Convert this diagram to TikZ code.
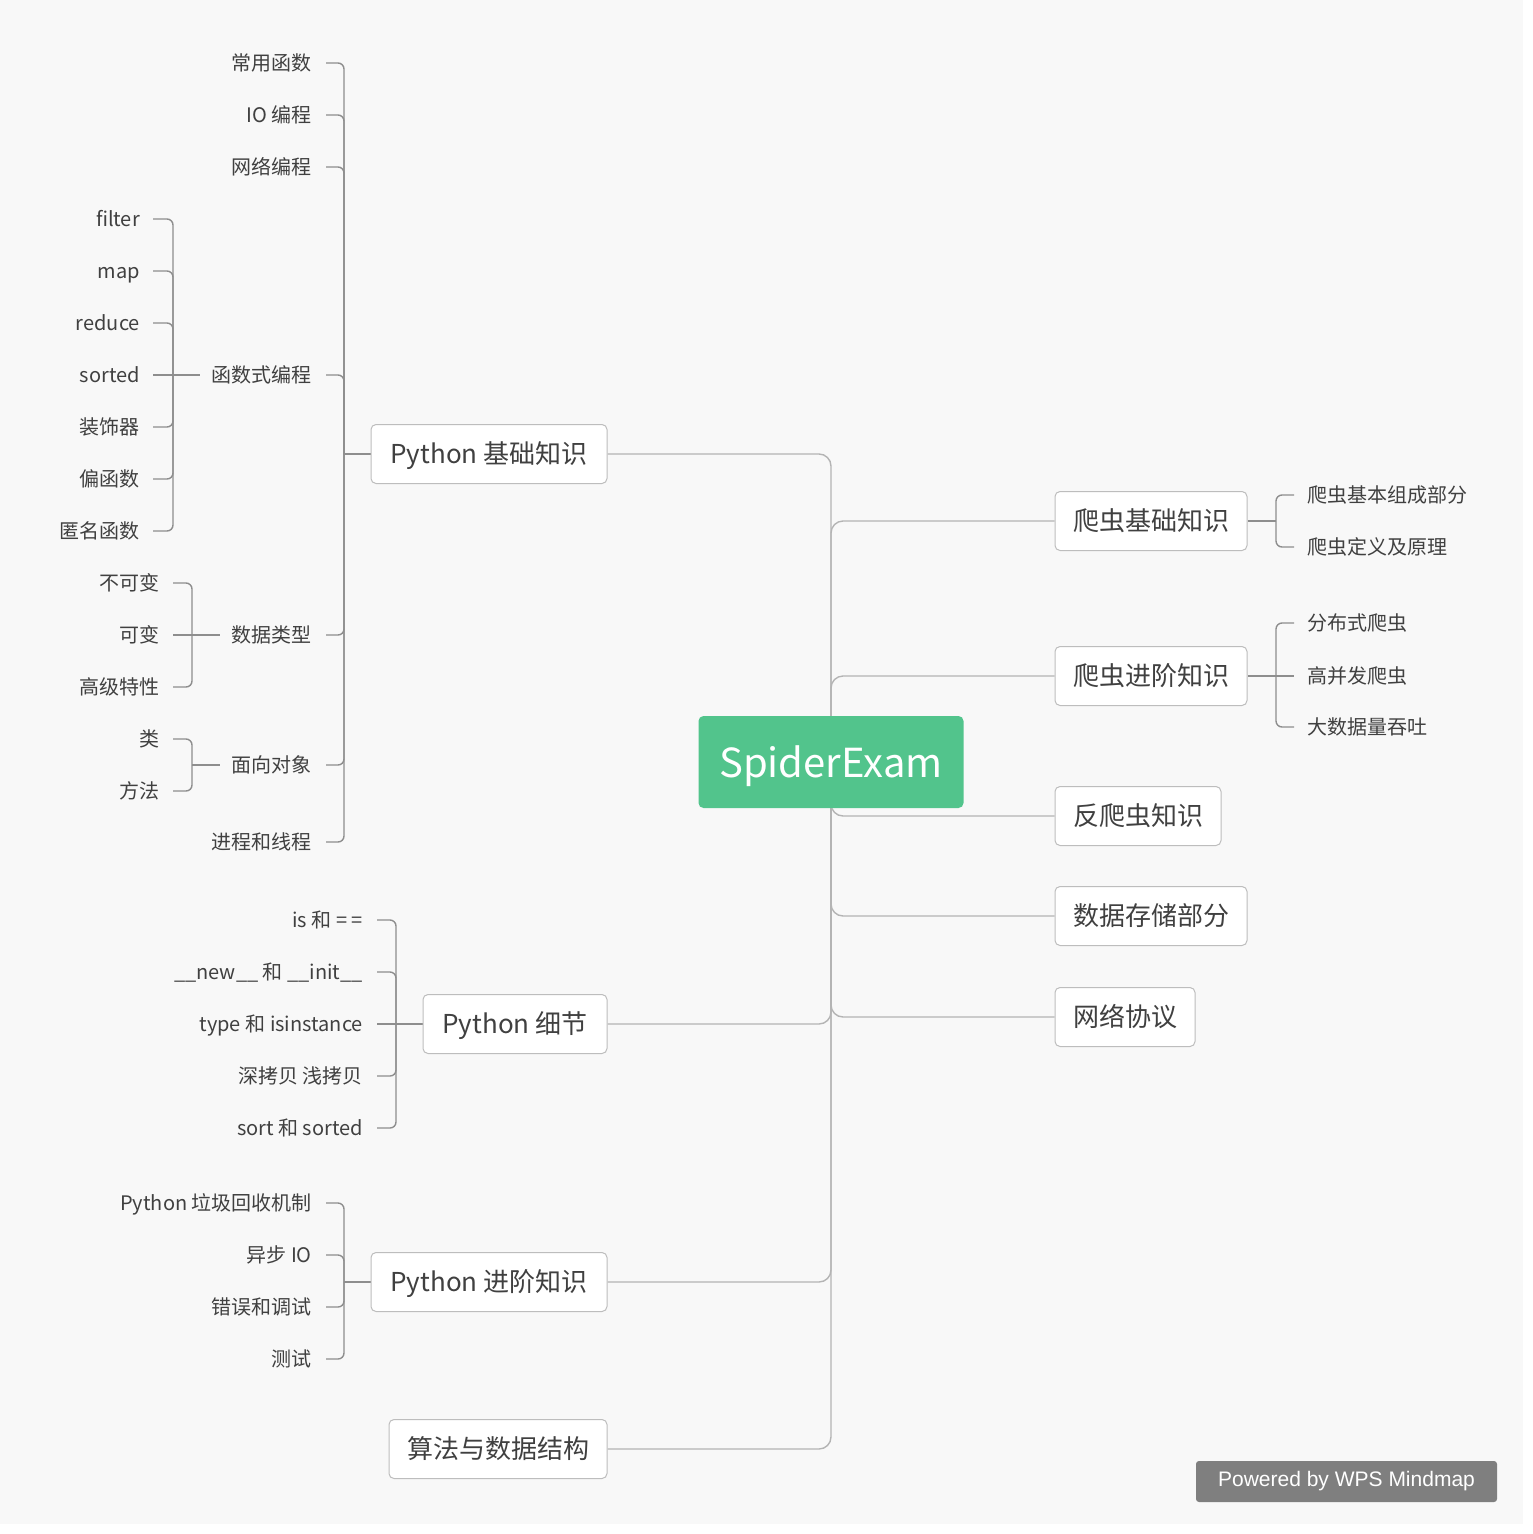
\documentclass[tikz,border=0pt]{standalone}
\usepackage{fontspec}
\setmainfont{Noto Sans CJK SC}
\newfontfamily\wpsfont{Liberation Sans}
\definecolor{txt}{HTML}{404040}
\definecolor{bgc}{HTML}{F8F8F8}
\definecolor{boxc}{HTML}{BDBDBD}
\definecolor{trunkc}{HTML}{B4B4B4}
\definecolor{leafc}{HTML}{8E8E8E}
\definecolor{rootc}{HTML}{52C48C}
\definecolor{wpsc}{HTML}{7F7F7F}
\pgfdeclarelayer{bgl}
\pgfdeclarelayer{edgel}
\pgfsetlayers{bgl,edgel,main}
\begin{document}
\begin{tikzpicture}[x=1pt,y=-1pt,
  leafl/.style={font=\fontsize{20}{24}\selectfont, text=txt, inner sep=0pt, text height=17.2pt, text depth=2.8pt, anchor=east},
  leafr/.style={leafl, anchor=west},
  topic/.style={draw=boxc, fill=white, rounded corners=5pt, line width=1pt, minimum height=59pt, inner sep=0pt, font=\fontsize{26}{30}\selectfont, text=txt, text height=22.4pt, text depth=3.6pt},
  rootbox/.style={fill=rootc, rounded corners=5pt, minimum width=265pt, minimum height=92pt, inner sep=0pt, font=\fontsize{40}{46}\selectfont, text=white, text height=35pt, text depth=5pt},
  trunk/.style={draw=trunkc, line width=1.4pt, rounded corners=12pt},
  leafline/.style={draw=leafc, line width=1.4pt, rounded corners=6pt},
  wpsbox/.style={fill=wpsc, rounded corners=3pt, minimum width=301pt, minimum height=41pt, inner sep=0pt, font=\wpsfont\fontsize{21}{24}\selectfont, text=white}
]
\useasboundingbox (0,0) rectangle (1533,1534);
\begin{pgfonlayer}{bgl}
\fill[white] (0,0) rectangle (1533,1534);
\fill[bgc] (0,0) rectangle (1523,1524);
\end{pgfonlayer}

% root and topics
\node[rootbox] (root) at (831,762) {SpiderExam};
\node[topic, minimum width=236pt] (pyb) at (489,454) {Python 基础知识};
\node[topic, minimum width=184pt] (pyd) at (515,1024) {Python 细节};
\node[topic, minimum width=236pt] (pya) at (489,1282) {Python 进阶知识};
\node[topic, minimum width=218pt] (alg) at (498,1449) {算法与数据结构};
\node[topic, minimum width=192pt] (sb) at (1151,521) {爬虫基础知识};
\node[topic, minimum width=192pt] (sa) at (1151,676) {爬虫进阶知识};
\node[topic, minimum width=166pt] (fa) at (1138,816) {反爬虫知识};
\node[topic, minimum width=192pt] (ds) at (1151,916) {数据存储部分};
\node[topic, minimum width=140pt] (net) at (1125,1017) {网络协议};

% Python 基础知识 children
\node[leafl] (b1) at (312,63) {常用函数};
\node[leafl] (b2) at (312,115) {IO 编程};
\node[leafl] (b3) at (312,167) {网络编程};
\node[leafl] (b4) at (312,375) {函数式编程};
\node[leafl] (b5) at (312,635) {数据类型};
\node[leafl] (b6) at (312,765) {面向对象};
\node[leafl] (b7) at (312,842) {进程和线程};

% 函数式编程 children
\node[leafl] (f1) at (140,219) {filter};
\node[leafl] (f2) at (140,271) {map};
\node[leafl] (f3) at (140,323) {reduce};
\node[leafl] (f4) at (140,375) {sorted};
\node[leafl] (f5) at (140,427) {装饰器};
\node[leafl] (f6) at (140,479) {偏函数};
\node[leafl] (f7) at (140,531) {匿名函数};

% 数据类型 children
\node[leafl] (d1) at (160,583) {不可变};
\node[leafl] (d2) at (160,635) {可变};
\node[leafl] (d3) at (160,687) {高级特性};

% 面向对象 children
\node[leafl] (o1) at (160,739) {类};
\node[leafl] (o2) at (160,791) {方法};

% Python 细节 children
\node[leafl] (p1) at (363,920) {is 和 = =};
\node[leafl] (p2) at (363,972) {\_\_new\_\_ 和 \_\_init\_\_};
\node[leafl] (p3) at (363,1024) {type 和 isinstance};
\node[leafl] (p4) at (363,1076) {深拷贝 浅拷贝};
\node[leafl] (p5) at (363,1128) {sort 和 sorted};

% Python 进阶知识 children
\node[leafl] (a1) at (312,1203) {Python 垃圾回收机制};
\node[leafl] (a2) at (312,1255) {异步 IO};
\node[leafl] (a3) at (312,1307) {错误和调试};
\node[leafl] (a4) at (312,1359) {测试};

% right side children
\node[leafr] (r1) at (1307,495) {爬虫基本组成部分};
\node[leafr] (r2) at (1307,547) {爬虫定义及原理};
\node[leafr] (s1) at (1307,623) {分布式爬虫};
\node[leafr] (s2) at (1307,676) {高并发爬虫};
\node[leafr] (s3) at (1307,727) {大数据量吞吐};

% watermark
\node[wpsbox] (wps) at (1346.5,1481.5) {Powered by WPS Mindmap};

% junctions
\coordinate (jb) at (344,454);
\coordinate (jf) at (173,375);
\coordinate (jd) at (192,635);
\coordinate (jo) at (192,765);
\coordinate (jp) at (396,1024);
\coordinate (ja) at (344,1282);
\coordinate (jr) at (1276,521);
\coordinate (js) at (1276,676);

\begin{pgfonlayer}{edgel}
% trunk
\draw[trunk] (pyb.east) -| (root.center);
\draw[trunk] (pyd.east) -| (root.center);
\draw[trunk] (pya.east) -| (root.center);
\draw[trunk] (alg.east) -| (root.center);
\draw[trunk] (root.center) |- (sb.west);
\draw[trunk] (root.center) |- (sa.west);
\draw[trunk] (root.center) |- (fa.west);
\draw[trunk] (root.center) |- (ds.west);
\draw[trunk] (root.center) |- (net.west);

% Python 基础知识 bracket
\foreach \n in {b1,b2,b3,b4,b5,b6,b7}
  \draw[leafline] ([xshift=14pt]\n.east) -| (jb);
\draw[leafline] (jb) -- (pyb.west);

% 函数式编程 bracket
\foreach \n in {f1,f2,f3,f5,f6,f7}
  \draw[leafline] ([xshift=13pt]\n.east) -| (jf);
\draw[leafline] ([xshift=13pt]f4.east) -- (jf);
\draw[leafline] (jf) -- ([xshift=-12pt]b4.west);

% 数据类型 bracket
\foreach \n in {d1,d3}
  \draw[leafline] ([xshift=13pt]\n.east) -| (jd);
\draw[leafline] ([xshift=13pt]d2.east) -- (jd);
\draw[leafline] (jd) -- ([xshift=-12pt]b5.west);

% 面向对象 bracket
\foreach \n in {o1,o2}
  \draw[leafline] ([xshift=13pt]\n.east) -| (jo);
\draw[leafline] (jo) -- ([xshift=-12pt]b6.west);

% Python 细节 bracket
\foreach \n in {p1,p2,p4,p5}
  \draw[leafline] ([xshift=14pt]\n.east) -| (jp);
\draw[leafline] ([xshift=14pt]p3.east) -- (jp);
\draw[leafline] (jp) -- (pyd.west);

% Python 进阶知识 bracket
\foreach \n in {a1,a2,a3,a4}
  \draw[leafline] ([xshift=14pt]\n.east) -| (ja);
\draw[leafline] (ja) -- (pya.west);

% right brackets
\draw[leafline] (sb.east) -- (jr);
\foreach \n in {r1,r2}
  \draw[leafline] (jr) |- ([xshift=-13pt]\n.west);
\draw[leafline] (sa.east) -- (js);
\foreach \n in {s1,s3}
  \draw[leafline] (js) |- ([xshift=-13pt]\n.west);
\draw[leafline] (js) -- ([xshift=-13pt]s2.west);
\end{pgfonlayer}
\end{tikzpicture}
\end{document}
